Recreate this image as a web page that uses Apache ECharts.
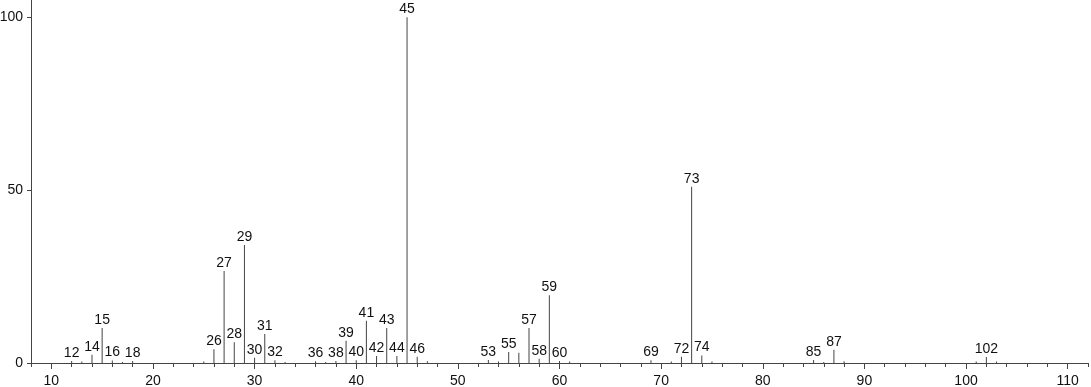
<!DOCTYPE html>
<html>
<head>
<meta charset="utf-8">
<script src="https://cdn.jsdelivr.net/npm/echarts@6/dist/echarts.min.js"></script>
<style>
html,body{margin:0;padding:0;background:#fff;}
#chart{width:1091px;height:387px;}
</style>
</head>
<body>
<div id="chart"></div>
<script>
// m/z values and relative intensities
const mz =        [12, 13, 14, 15, 16, 17, 18, 25, 26, 27, 28, 29, 30, 31, 32, 33, 36, 37, 38, 39, 40, 41, 42, 43, 44, 45, 46, 47, 53, 54, 55, 56, 57, 58, 59, 60, 61, 69, 71, 72, 73, 74, 75, 85, 86, 87, 88, 101, 102, 103];
const intensity = [0.6,0.4,2.4,10.1,0.7,0.3,0.6,0.4,4.0,26.6,6.0,34.1,1.5,8.4,0.8,0.3,0.5,0.3,0.6,6.4,0.8,12.2,2.0,10.1,2.0,100, 1.8,0.5,0.9,0.4,3.2,3.0,10.1,1.2,19.6,0.6,0.4,0.8,0.4,1.8,51.0,2.2,0.4,0.9,0.3,3.8,0.5,0.4,1.7,0.4];
const labeledMz = [12,14,15,16,18,26,27,28,29,30,31,32,36,38,39,40,41,42,43,44,45,46,53,55,57,58,59,60,69,72,73,74,85,87,102];
const xMajorTicks = [10,20,30,40,50,60,70,80,90,100,110];
const yTicks = [0,50,100];

const FONT = '"Liberation Sans", Arial, sans-serif';
const data = mz.map((m, i) => {
  const item = { value: [m, intensity[i]] };
  if (labeledMz.indexOf(m) >= 0) item.label = { show: true };
  return item;
});

const chart = echarts.init(document.getElementById('chart'));
chart.setOption({
  animation: false,
  grid: { left: 31, right: 3, top: 0, bottom: 24, containLabel: false, outerBoundsMode: 'none' },
  xAxis: [
    {
      type: 'value', min: 8, max: 112, interval: 2,
      axisLine: { show: true, lineStyle: { color: '#444', width: 1 } },
      axisTick: { show: true, length: 4, lineStyle: { color: '#444' } },
      axisLabel: { show: false },
      splitLine: { show: false }
    },
    {
      type: 'value', min: 8, max: 112, position: 'bottom',
      axisLine: { show: false },
      axisTick: { show: true, length: 6, customValues: xMajorTicks, lineStyle: { color: '#444' } },
      axisLabel: { show: true, customValues: xMajorTicks, margin: 11, color: '#111', fontSize: 14, fontFamily: FONT },
      splitLine: { show: false }
    }
  ],
  yAxis: {
    type: 'value', min: 0, max: 105,
    axisLine: { show: true, lineStyle: { color: '#444', width: 1 } },
    axisTick: { show: true, length: 4, customValues: yTicks, lineStyle: { color: '#444' } },
    axisLabel: { customValues: yTicks, margin: 8, color: '#111', fontSize: 14, fontFamily: FONT },
    splitLine: { show: false }
  },
  series: [{
    type: 'bar',
    xAxisIndex: 0,
    barWidth: 1,
    itemStyle: { color: '#444' },
    label: {
      show: false, position: 'top', distance: 1,
      color: '#111', fontSize: 14, fontFamily: FONT,
      formatter: p => String(p.value[0])
    },
    data: data
  }]
});
</script>
</body>
</html>
